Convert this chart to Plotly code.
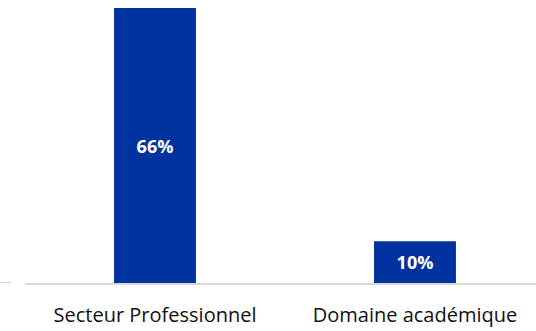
import plotly.graph_objects as go

categories = ["Secteur Professionnel", "Domaine académique"]
values = [66, 10]
labels = ["66%", "10%"]

bar_color = "#0032A0"
axis_color = "#D9D9D9"

fig = go.Figure(go.Bar(
    x=categories,
    y=values,
    text=labels,
    textposition="inside",
    insidetextanchor="middle",
    textangle=0,
    textfont=dict(family="Open Sans", size=18, color="white", weight="bold"),
    marker=dict(color=bar_color, line=dict(width=0)),
    width=0.315,
    hoverinfo="skip",
))

fig.update_layout(
    width=536, height=331,
    margin=dict(l=25, r=0, t=0, b=48),
    paper_bgcolor="white", plot_bgcolor="white",
    showlegend=False,
    uniformtext=dict(minsize=18, mode="show"),
    xaxis=dict(
        range=[-0.5, 1.4654],
        showline=True, linecolor=axis_color, linewidth=2,
        showgrid=False, zeroline=False,
        ticks="", ticklabelstandoff=13,
        tickfont=dict(family="Open Sans", size=20, color="#111111"),
    ),
    yaxis=dict(
        range=[0, 67.92], visible=False, showgrid=False, zeroline=False,
    ),
    shapes=[dict(
        type="line", xref="paper", yref="y",
        x0=-25/511, x1=-14/511, y0=0, y1=0,
        line=dict(color=axis_color, width=2),
    )],
)

fig.write_html("out.html", config={"displayModeBar": False},
               post_script="document.body.style.margin='0';")
